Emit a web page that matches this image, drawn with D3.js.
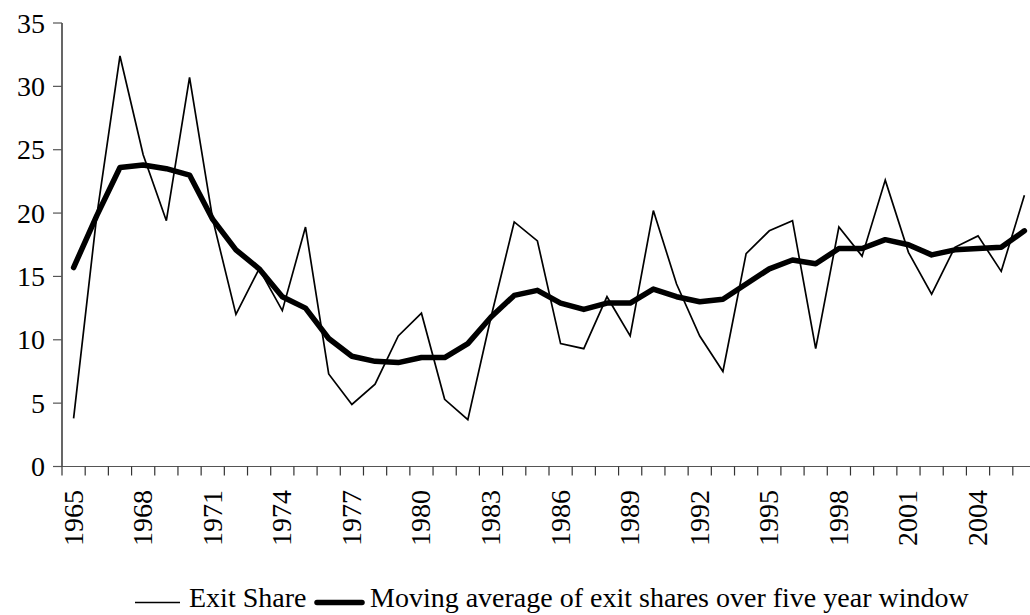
<!DOCTYPE html>
<html><head><meta charset="utf-8"><script src="https://cdn.jsdelivr.net/npm/d3@7"></script></head>
<body style="margin:0;background:#fff">
<div id="wrap" style="position:relative;width:1030px;height:615px;overflow:hidden">
<svg id="chart" width="1030" height="615" style="position:absolute;left:0;top:0"></svg>
</div>
<script>
const years = d3.range(1965, 2007);
const exitShare = [3.8, 19.8, 32.4, 24.6, 19.4, 30.7, 19.5, 12.0, 15.6, 12.3,
  18.9, 7.3, 4.9, 6.5, 10.3, 12.1, 5.3, 3.7, 11.8, 19.3,
  17.8, 9.7, 9.3, 13.4, 10.3, 20.2, 14.4, 10.3, 7.5, 16.8,
  18.6, 19.4, 9.3, 18.9, 16.6, 22.6, 16.9, 13.6, 17.3, 18.2,
  15.4, 21.4];
const movingAvg = [15.7, 19.8, 23.6, 23.8, 23.5, 23.0, 19.5, 17.1, 15.6, 13.4,
  12.5, 10.1, 8.7, 8.3, 8.2, 8.6, 8.6, 9.7, 11.8, 13.5,
  13.9, 12.9, 12.4, 12.9, 12.9, 14.0, 13.4, 13.0, 13.2, 14.4,
  15.6, 16.3, 16.0, 17.2, 17.2, 17.9, 17.5, 16.7, 17.1, 17.2,
  17.3, 18.6];
const yTicks = [0, 5, 10, 15, 20, 25, 30, 35];
const yearLabels = years.filter(y => (y - 1965) % 3 === 0);
const legendLabels = ["Exit Share", "Moving average of exit shares over five year window"];

const s = d3.select("#chart");
const wrap = d3.select("#wrap");
const mLeft = 62, mRight = 1036, mTop = 23, mBottom = 466.5;
const FONT = '"Liberation Serif", "Times New Roman", serif';

const x = d3.scaleBand().domain(years).range([mLeft, mRight]).padding(0);
const y = d3.scaleLinear().domain([0, 35]).range([mBottom, mTop]);
const cx = d => x(d) + x.bandwidth() / 2;

const label = () => wrap.append("div")
  .style("position", "absolute").style("font-family", FONT)
  .style("font-size", "28px").style("line-height", "30px")
  .style("white-space", "nowrap").style("color", "#000");

// Y axis line and ticks
s.append("line").attr("x1", mLeft).attr("x2", mLeft).attr("y1", y(35)).attr("y2", y(0))
  .attr("stroke", "#000").attr("stroke-width", 1.2);
s.append("g").selectAll("line").data(yTicks).join("line")
  .attr("x1", mLeft - 9).attr("x2", mLeft).attr("y1", d => y(d)).attr("y2", d => y(d))
  .attr("stroke", "#555").attr("stroke-width", 1.2);
yTicks.forEach(v => {
  label().style("left", "0px").style("width", (mLeft - 17) + "px")
    .style("text-align", "right")
    .style("top", (y(v) - 14.4) + "px").text(v);
});

// X axis line and ticks at category boundaries
s.append("line").attr("x1", mLeft).attr("x2", mRight).attr("y1", mBottom).attr("y2", mBottom)
  .attr("stroke", "#555").attr("stroke-width", 1.2);
const boundaries = years.map(d => x(d)).concat([x(years[years.length - 1]) + x.bandwidth()]);
s.append("g").selectAll("line").data(boundaries).join("line")
  .attr("x1", d => d).attr("x2", d => d).attr("y1", mBottom).attr("y2", mBottom + 9)
  .attr("stroke", "#333").attr("stroke-width", 1.2);
yearLabels.forEach(yr => {
  label().style("left", (cx(yr) - 200) + "px").style("top", (490 - 15) + "px")
    .style("width", "200px").style("height", "30px").style("text-align", "right")
    .style("transform-origin", "right center").style("transform", "rotate(-90deg)")
    .text(yr);
});

// Lines
const lineGen = vals => d3.line().x((d, i) => cx(years[i])).y(d => y(d))(vals);
s.append("path").attr("d", lineGen(exitShare))
  .attr("fill", "none").attr("stroke", "#000").attr("stroke-width", 1.7);
s.append("path").attr("d", lineGen(movingAvg))
  .attr("fill", "none").attr("stroke", "#000").attr("stroke-width", 5.5)
  .attr("stroke-linejoin", "round").attr("stroke-linecap", "round");

// Legend
s.append("line").attr("x1", 135).attr("x2", 180).attr("y1", 602.5).attr("y2", 602.5)
  .attr("stroke", "#000").attr("stroke-width", 1.7);
label().style("left", "189px").style("top", (607 - 24.4) + "px").text(legendLabels[0]);
s.append("line").attr("x1", 317).attr("x2", 362).attr("y1", 602.5).attr("y2", 602.5)
  .attr("stroke", "#000").attr("stroke-width", 5.5).attr("stroke-linecap", "round");
label().style("left", "370px").style("top", (607 - 24.4) + "px").text(legendLabels[1]);
</script>
</body></html>
